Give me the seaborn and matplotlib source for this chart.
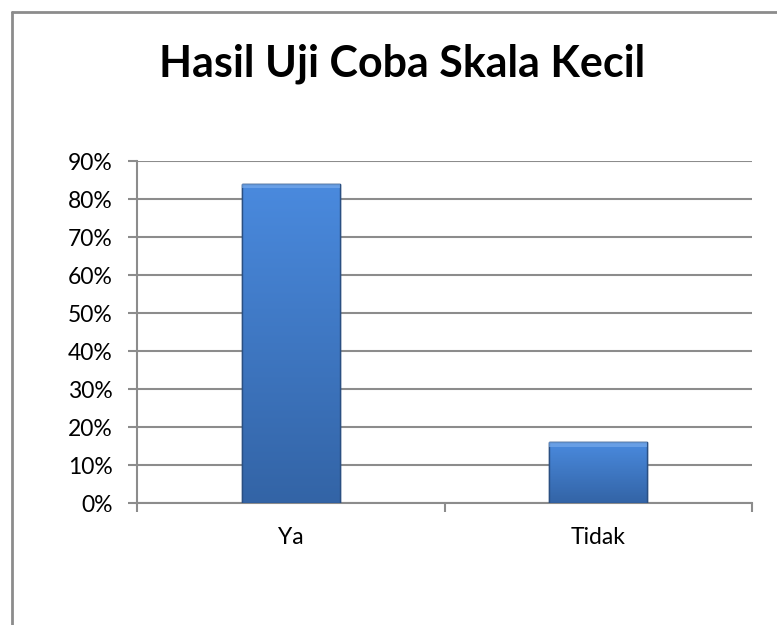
import numpy as np
import seaborn as sns
from matplotlib import pyplot as plt
from matplotlib.lines import Line2D
from matplotlib.ticker import PercentFormatter, FixedLocator
from matplotlib.colors import LinearSegmentedColormap

TITLE = 'Hasil Uji Coba Skala Kecil'
CATEGORIES = ['Ya', 'Tidak']
VALUES = [0.84, 0.16]
Y_TICKS = [0.0, 0.1, 0.2, 0.3, 0.4, 0.5, 0.6, 0.7, 0.8, 0.9]

GRID_COLOR = '#8c8c8c'
BAR_TOP = '#4a8ade'
BAR_BOTTOM = '#3364a6'
BAR_EDGE = '#2a4f82'


def main():
    sns.set_theme(style='white')
    plt.rcParams['font.family'] = ['Lato', 'DejaVu Sans']

    fig = plt.figure(figsize=(7.77, 6.25), dpi=100)
    ax = fig.add_axes([137 / 777, 1 - 503 / 625, 615 / 777, 342 / 625])

    sns.barplot(x=CATEGORIES, y=VALUES, width=0.32, color=BAR_TOP,
                edgecolor=BAR_EDGE, linewidth=1.0, ax=ax, zorder=3)

    # gradient fill inside each bar
    cmap = LinearSegmentedColormap.from_list('bar', [BAR_BOTTOM, BAR_TOP])
    grad = np.linspace(0, 1, 256).reshape(-1, 1)
    for patch in ax.patches:
        x0, y0 = patch.get_x(), patch.get_y()
        w, h = patch.get_width(), patch.get_height()
        im = ax.imshow(grad, cmap=cmap, origin='lower', aspect='auto',
                       extent=[x0, x0 + w, y0, y0 + h], zorder=3.5)
        im.set_clip_path(patch)
        ax.add_patch(plt.Rectangle((x0, y0), w, h, fill=False,
                                   edgecolor=BAR_EDGE, linewidth=1.0, zorder=4))
        # light bevel along the top
        ax.add_patch(plt.Rectangle((x0, y0 + h - 0.012), w, 0.012,
                                   facecolor='#7fb0ee', edgecolor='none',
                                   alpha=0.6, zorder=4))

    ax.set_xlim(-0.5, 1.5)
    ax.set_ylim(0, 0.9)
    ax.set_yticks(Y_TICKS)
    ax.yaxis.set_major_formatter(PercentFormatter(1.0, decimals=0))
    ax.yaxis.grid(True, color=GRID_COLOR, linewidth=1.5, zorder=0)
    ax.set_axisbelow(True)

    for side in ['top', 'right']:
        ax.spines[side].set_visible(False)
    for side in ['left', 'bottom']:
        ax.spines[side].set_color(GRID_COLOR)
        ax.spines[side].set_linewidth(1.5)

    ax.tick_params(axis='y', which='major', left=True, length=6.5, width=1.5,
                   color=GRID_COLOR, pad=11, labelsize=16.5, labelcolor='black')
    ax.tick_params(axis='x', which='major', bottom=False, length=0, pad=17,
                   labelsize=16.5, labelcolor='black')
    ax.xaxis.set_minor_locator(FixedLocator([-0.5, 0.5, 1.5]))
    ax.tick_params(axis='x', which='minor', bottom=True, length=6.5, width=1.5,
                   color=GRID_COLOR)

    fig.text(402 / 777, 1 - 77 / 625, TITLE, ha='center', va='baseline',
             fontsize=31, fontweight='bold', color='black')

    # outer chart frame
    fig.add_artist(Line2D([12 / 777, 12 / 777], [0, 1 - 12 / 625],
                          transform=fig.transFigure, color=GRID_COLOR, linewidth=2))
    fig.add_artist(Line2D([12 / 777, 1], [1 - 12 / 625, 1 - 12 / 625],
                          transform=fig.transFigure, color=GRID_COLOR, linewidth=2))

    fig.savefig('out.png', dpi=100, facecolor='white')


if __name__ == '__main__':
    main()
